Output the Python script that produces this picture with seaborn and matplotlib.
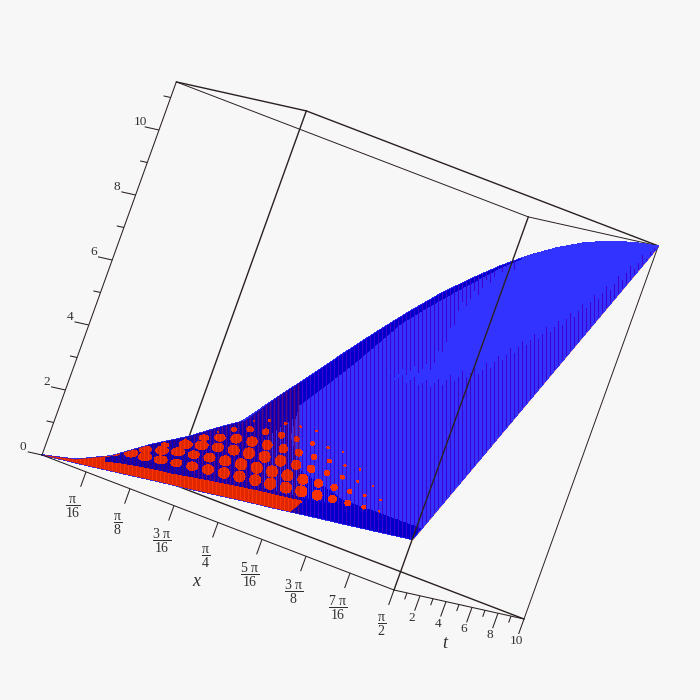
import numpy as np
import pandas as pd
import matplotlib
matplotlib.use("Agg")
import matplotlib.pyplot as plt
from matplotlib.collections import PolyCollection, LineCollection
from matplotlib.patches import Polygon
import seaborn as sns

# ---------- data ----------
x_grid = [0, 0.098, 0.196, 0.295, 0.393, 0.491, 0.589, 0.687, 0.785, 0.884,
          0.982, 1.08, 1.178, 1.276, 1.374, 1.473, 1.571]
t_grid = [0, 2.5, 5, 7.5, 10]
z_t0 = [0, .10, .19, .29, .39, .49, .58, .68, .78, .88, .97, 1.07, 1.17, 1.26, 1.36, 1.46, 1.56]
z_t2 = [.09, .40, .69, 1.03, 1.35, 1.66, 1.97, 2.26, 2.54, 2.79, 3.03, 3.25, 3.46, 3.64, 3.79, 3.92, 4.03]
z_t5 = [.42, .81, 1.24, 1.65, 2.20, 2.75, 3.38, 3.86, 4.32, 4.74, 5.11, 5.46, 5.76, 6.01, 6.22, 6.39, 6.51]
z_t7 = [.99, 1.34, 1.83, 2.27, 3.10, 3.95, 4.80, 5.48, 6.11, 6.69, 7.21, 7.67, 8.06, 8.39, 8.66, 8.86, 8.99]
z_t10 = [1.46, 1.98, 2.46, 3.47, 4.38, 5.33, 6.24, 7.11, 7.93, 8.65, 9.31, 9.89, 10.38, 10.79, 11.10, 11.32, 11.47]

x_ticks = [np.pi * k / 16 for k in range(1, 9)]
x_labels = [r"$\dfrac{\mathrm{\pi}}{16}$", r"$\dfrac{\mathrm{\pi}}{8}$", r"$\dfrac{3\ \mathrm{\pi}}{16}$",
            r"$\dfrac{\mathrm{\pi}}{4}$", r"$\dfrac{5\ \mathrm{\pi}}{16}$", r"$\dfrac{3\ \mathrm{\pi}}{8}$",
            r"$\dfrac{7\ \mathrm{\pi}}{16}$", r"$\dfrac{\mathrm{\pi}}{2}$"]
t_major = [2, 4, 6, 8, 10]
t_minor = [1, 3, 5, 7, 9]
z_major = [0, 2, 4, 6, 8, 10]
z_minor = [1, 3, 5, 7, 9, 11]

# regions of the surface, in (x, t)
red_x = [0, 1.05, 1.06, .8, .5, .2, .08, 0]
red_t = [0, 0, .42, .5, .6, 1.0, 3.0, 5.5]
dark_x = [0, 1.571, 1.571, 1.2, .95, .78, .66, .70, .72, .85, 1.0, 1.05, 0]
dark_t = [0, 0, .35, .7, 1.5, 3.0, 5.0, 7.0, 9.1, 9.55, 9.95, 10, 10]
lower_top_x = [1.15, 1.2, 1.3, 1.38, 1.45, 1.52, 1.56]
lower_top_t = [4.9, 5.15, 5.5, 6.5, 7.2, 8.5, 9.8]
upper_bot_x = [1.08, 1.05, .97, 1.0]
upper_bot_t = [5.8, 6.8, 8.3, 9.9]

X_MAX, T_MAX, Z_MAX = np.pi / 2, 10.0, 11.48

BG = "#F7F7F7"
BRIGHT = "#3333FF"
DARK = "#0000CC"
STRIPE = "#4000CC"
RED = "#FF3300"
INK = "#2A2020"

sns.set_theme(style="white")
plt.rcParams.update({
    "font.family": ["Liberation Serif", "DejaVu Serif"],
    "mathtext.fontset": "custom",
    "mathtext.rm": "Liberation Serif",
    "mathtext.it": "Liberation Serif:italic",
    "mathtext.bf": "Liberation Serif:bold",
})

fig = plt.figure(figsize=(7, 7), dpi=100, facecolor=BG)
ax = fig.add_axes([0, 0, 1, 1])
ax.set_xlim(0, 700)
ax.set_ylim(700, 0)
ax.axis("off")


def project(x, t, z):
    """Oblique view of the (x, t, z) box onto the axes."""
    x, t, z = np.asarray(x, float), np.asarray(t, float), np.asarray(z, float)
    u = x / X_MAX
    return 42 + 352 * u + 13.0 * t + 11.7 * z, 455 + 135 * u + 2.9 * t - 32.5 * z


Z = np.array([z_t0, z_t2, z_t5, z_t7, z_t10])
XG, TG = np.array(x_grid), np.array(t_grid)


def surf(x, t):
    x, t = np.asarray(x, float), np.asarray(t, float)
    i = np.clip(np.searchsorted(XG, x) - 1, 0, len(XG) - 2)
    j = np.clip(np.searchsorted(TG, t) - 1, 0, len(TG) - 2)
    a = (x - XG[i]) / (XG[i + 1] - XG[i])
    b = (t - TG[j]) / (TG[j + 1] - TG[j])
    return ((1 - a) * (1 - b) * Z[j, i] + a * (1 - b) * Z[j, i + 1]
            + (1 - a) * b * Z[j + 1, i] + a * b * Z[j + 1, i + 1])


def on_surface(x, t):
    return np.column_stack(project(x, t, surf(x, t)))


def edge(p, q, lw, z):
    a, b = project(*p), project(*q)
    df = pd.DataFrame({"h": [a[0], b[0]], "v": [a[1], b[1]]})
    sns.lineplot(data=df, x="h", y="v", sort=False, estimator=None, color=INK,
                 linewidth=lw, zorder=z, ax=ax, legend=False)


# back of the box (hidden by the surface)
edge((0, 10, 0), (0, 10, Z_MAX), 1.0, 1)
edge((0, 10, 0), (X_MAX, 10, 0), 1.0, 1)
edge((0, 10, Z_MAX), (X_MAX, 10, Z_MAX), 1.0, 1)
edge((0, 0, Z_MAX), (0, 10, Z_MAX), 1.0, 1)
edge((0, 0, Z_MAX), (X_MAX, 0, Z_MAX), 0.7, 1)
edge((X_MAX, 0, Z_MAX), (X_MAX, 10, Z_MAX), 0.7, 1)
edge((X_MAX, 10, 0), (X_MAX, 10, Z_MAX), 0.7, 1)

# surface cells
cells = []
for j in range(len(TG) - 1):
    for i in range(len(XG) - 1):
        xs = [XG[i], XG[i + 1], XG[i + 1], XG[i]]
        ts = [TG[j], TG[j], TG[j + 1], TG[j + 1]]
        zs = [Z[j, i], Z[j, i + 1], Z[j + 1, i + 1], Z[j + 1, i]]
        cells.append(np.column_stack(project(xs, ts, zs)))
ax.add_collection(PolyCollection(cells, facecolors=BRIGHT, edgecolors=BRIGHT,
                                 linewidths=0.4, zorder=3, antialiaseds=False))

# outline used for clipping
out_x = list(XG) + [XG[-1]] * len(TG) + list(XG[::-1]) + [XG[0]] * len(TG)
out_t = [TG[0]] * len(XG) + list(TG) + [TG[-1]] * len(XG) + list(TG[::-1])
outline_pts = on_surface(out_x, out_t)
outline = Polygon(outline_pts, closed=True, transform=ax.transData, facecolor="none", edgecolor="none")
ax.add_patch(outline)

# thin red seam along the x = pi/2 edge
sx, sy = project([X_MAX, X_MAX], [0, 10], [Z[0, -1], Z[-1, -1]])
ax.plot(sx + 0.5, sy + 0.5, color=RED, lw=0.6, zorder=2.5)


def densify(xs, ts, n=12):
    px, pt = [], []
    for k in range(len(xs) - 1):
        px += list(np.linspace(xs[k], xs[k + 1], n, endpoint=False))
        pt += list(np.linspace(ts[k], ts[k + 1], n, endpoint=False))
    px.append(xs[-1])
    pt.append(ts[-1])
    return np.array(px), np.array(pt)


dx_, dt_ = densify(dark_x + dark_x[:1], dark_t + dark_t[:1])
dark_poly = Polygon(on_surface(dx_, dt_), closed=True, facecolor=DARK, edgecolor=DARK, lw=0.3, zorder=4,
                    antialiased=False)
ax.add_patch(dark_poly)
dark_poly.set_clip_path(outline)

# vertical rendering stripes, with a gap that closes towards the left
cols = np.arange(194, 656, 4.0)
jit = np.array([0, -4, 3])[np.arange(len(cols)) % 3]
lt = on_surface(lower_top_x, lower_top_t)
ub = on_surface(upper_bot_x, upper_bot_t)
o = np.argsort(ub[:, 0])
segs = []
for c, j in zip(cols, jit):
    top = np.interp(c, lt[:, 0], lt[:, 1]) + j
    bot = np.interp(c, ub[o, 0], ub[o, 1]) + j
    if c < 385:
        segs.append([(c, 0), (c, 700)])
    elif c < 440:
        mid = 0.5 * (top + bot)
        half = 0.5 * abs(top - bot) * (c - 385) / 55
        segs.append([(c, 0), (c, mid - half)])
        segs.append([(c, mid + half), (c, 700)])
    else:
        if c < 515:
            segs.append([(c, 0), (c, bot)])
        segs.append([(c, top), (c, 700)])
sc = LineCollection(segs, colors=STRIPE, linewidths=0.72, zorder=5, antialiaseds=False)
ax.add_collection(sc)
sc.set_clip_path(outline)

# lighter stripes inside the dark part
cols_b = np.arange(262, 330, 4.0) + 2
segs_b = [[(c, 440 - (c - 262) * 0.7), (c, 455 + .228 * (c - 42) - 18)] for c in cols_b]
sb = LineCollection(segs_b, colors=BRIGHT, linewidths=0.72, zorder=5, antialiaseds=False)
ax.add_collection(sb)
sb.set_clip_path(outline)

# red wedge
rx_, rt_ = densify(red_x, red_t)
red_poly = Polygon(on_surface(rx_, rt_), closed=True, facecolor=RED, edgecolor=RED, lw=0.3, zorder=6,
                   antialiased=False)
ax.add_patch(red_poly)
red_poly.set_clip_path(outline)

# moire dots
dots = []
ang = np.linspace(0, 2 * np.pi, 13)[:-1]
xline = np.linspace(0.06, 1.52, 500)
for r in range(14):
    tr = (0.78 + 0.42 * r) * xline ** -0.8
    tm = 7.7 - 5 * xline
    keep = (tr <= tm) & (tr <= 9.9)
    if keep.sum() < 3:
        continue
    xr, tr2 = xline[keep], tr[keep]
    pts = on_surface(xr, tr2)
    arc = np.r_[0, np.cumsum(np.hypot(*np.diff(pts, axis=0).T))]
    for s in np.arange((r * 8) % 16, arc[-1], 16.0):
        k = min(np.searchsorted(arc, s), len(xr) - 1)
        f = np.clip((7.7 - 5 * xr[k] - tr2[k]) / 1.7, 0.12, 1)
        rad = (6.6 if xr[k] < 0.45 else 5.6) * f
        asp = np.clip(xr[k] / 0.7, 0.6, 1)
        cx, cy = pts[k]
        dots.append(np.column_stack([cx + rad * np.cos(ang), cy + rad * asp * np.sin(ang)]))
dc = PolyCollection(dots, facecolors=RED, edgecolors="none", zorder=7, antialiaseds=False)
ax.add_collection(dc)
dc.set_clip_path(outline)

# dark lines across the red part
cols_r = np.arange(46, 302, 4.0)
sr = LineCollection([[(c, 0), (c, 700)] for c in cols_r], colors=(0.55, 0.05, 0, 0.28),
                    linewidths=0.8, zorder=8, antialiaseds=False)
ax.add_collection(sr)
sr.set_clip_path(outline)

# front of the box and the axes
edge((0, 0, 0), (0, 0, Z_MAX), 0.75, 9)
edge((0, 0, 0), (X_MAX, 0, 0), 0.75, 9)
edge((X_MAX, 0, 0), (X_MAX, 10, 0), 0.75, 9)
edge((X_MAX, 0, 0), (X_MAX, 0, Z_MAX), 1.0, 9)


def tick(p, q):
    a, b = project(*p), project(*q)
    ax.plot([a[0], b[0]], [a[1], b[1]], color=INK, lw=0.75, zorder=9, solid_capstyle="butt")


def label(s, p, size=10):
    a = project(*p)
    ax.text(float(a[0]), float(a[1]), s, fontsize=size, ha="center", va="center", color="#303030", zorder=10)


for v, s in zip(x_ticks, x_labels):
    tick((v, 0, 0), (v, 0, -0.46))
    label(s, (v, 0, -1.08), size=10)
for v in t_major:
    tick((X_MAX, v, 0), (X_MAX, v, -0.46))
    label(str(v), (X_MAX, v, -0.68), size=9.5)
for v in t_minor:
    tick((X_MAX, v, 0), (X_MAX, v, -0.2))
for v in z_major:
    tick((0, 0, v), (0, -1.1, v))
    label(str(v), (0, -1.56, v + 0.12), size=9.5)
for v in z_minor:
    tick((0, 0, v), (0, -0.55, v))

a = project(np.pi / 4, 0, -1.83)
ax.text(float(a[0]), float(a[1]), "x", fontsize=13, style="italic", ha="center", va="center", color="#303030")
a = project(X_MAX, 5, -1.2)
ax.text(float(a[0]), float(a[1]), "t", fontsize=13, style="italic", ha="center", va="center", color="#303030")

fig.savefig("out.png", dpi=100, facecolor=BG)
